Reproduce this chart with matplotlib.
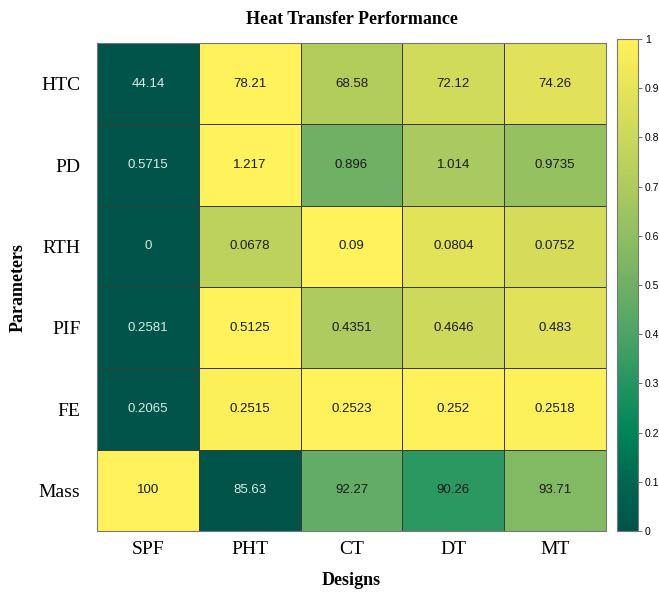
import matplotlib
matplotlib.use("Agg")
import matplotlib.pyplot as plt
import numpy as np
from matplotlib.colors import LinearSegmentedColormap

# Data
designs = ['SPF', 'PHT', 'CT', 'DT', 'MT']
params = ['HTC', 'PD', 'RTH', 'PIF', 'FE', 'Mass']
htc = [44.14, 78.21, 68.58, 72.12, 74.26]
pd_vals = [0.5715, 1.217, 0.896, 1.014, 0.9735]
rth = [0, 0.0678, 0.09, 0.0804, 0.0752]
pif = [0.2581, 0.5125, 0.4351, 0.4646, 0.483]
fe = [0.2065, 0.2515, 0.2523, 0.252, 0.2518]
mass = [100, 85.63, 92.27, 90.26, 93.71]
labels = [
    ['44.14', '78.21', '68.58', '72.12', '74.26'],
    ['0.5715', '1.217', '0.896', '1.014', '0.9735'],
    ['0', '0.0678', '0.09', '0.0804', '0.0752'],
    ['0.2581', '0.5125', '0.4351', '0.4646', '0.483'],
    ['0.2065', '0.2515', '0.2523', '0.252', '0.2518'],
    ['100', '85.63', '92.27', '90.26', '93.71'],
]

data = np.array([htc, pd_vals, rth, pif, fe, mass], dtype=float)
# per-row min-max normalisation drives the colours
mins = data.min(axis=1, keepdims=True)
maxs = data.max(axis=1, keepdims=True)
norm_data = (data - mins) / (maxs - mins)

cmap = LinearSegmentedColormap.from_list('greenyellow', [
    '#00544A', '#00664F', '#008558', '#239560', '#4DA466', '#6FB064',
    '#8FBE62', '#AECB5E', '#CAD85B', '#E5E459', '#FFF25A'])

fig = plt.figure(figsize=(6.59, 5.92), dpi=100)
ax = fig.add_axes([97/659, 1 - 531/592, 509/659, 488/592])
cax = fig.add_axes([617/659, 1 - 531/592, 21/659, 492/592])

im = ax.pcolormesh(norm_data, cmap=cmap, vmin=0, vmax=1,
                   edgecolors='#3a3a3a', linewidth=0.6)
ax.set_xlim(0, len(designs))
ax.set_ylim(len(params), 0)

for i in range(len(params)):
    for j in range(len(designs)):
        col = '#d8ece6' if norm_data[i, j] < 0.15 else '#1a1a1a'
        ax.text(j + 0.5, i + 0.5, labels[i][j], ha='center', va='center',
                fontsize=9.5, color=col, family='Liberation Sans')

serif = 'Liberation Serif'
ax.set_xticks(np.arange(len(designs)) + 0.5)
ax.set_xticklabels(designs, fontsize=14, family=serif)
ax.set_yticks(np.arange(len(params)) + 0.5)
ax.set_yticklabels(params, fontsize=14, family=serif)
ax.tick_params(axis='x', length=0, pad=7)
ax.tick_params(axis='y', length=0, pad=12)
for s in ax.spines.values():
    s.set_color('#777777')
    s.set_linewidth(0.8)

ax.set_xlabel('Designs', fontsize=13, fontweight='bold', family=serif, labelpad=10)
ax.set_ylabel('Parameters', fontsize=13, fontweight='bold', family=serif)
ax.yaxis.set_label_coords(-0.1375, 0.5)
ax.set_title('Heat Transfer Performance', fontsize=13, fontweight='bold',
             family=serif, pad=14)

cb = fig.colorbar(im, cax=cax, ticks=np.linspace(0, 1, 11))
cb.ax.set_yticklabels(['0', '0.1', '0.2', '0.3', '0.4', '0.5', '0.6',
                       '0.7', '0.8', '0.9', '1'], family='Liberation Sans')
cb.ax.tick_params(labelsize=7.5, length=3, width=0.6, color='#555555', pad=2)
cb.outline.set_edgecolor('#777777')
cb.outline.set_linewidth(0.8)

fig.savefig('out.png', dpi=100, facecolor='white')
plt.close(fig)
